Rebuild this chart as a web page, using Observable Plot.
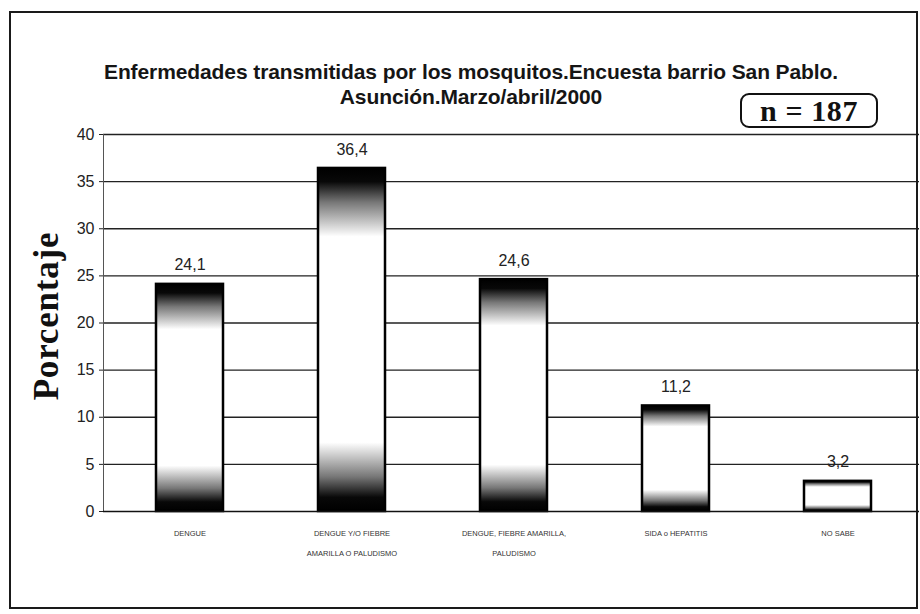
<!DOCTYPE html>
<html>
<head>
<meta charset="utf-8">
<script src="https://cdn.jsdelivr.net/npm/d3@7"></script>
<script src="https://cdn.jsdelivr.net/npm/@observablehq/plot@0.6"></script>
<style>
  html, body { margin: 0; padding: 0; background: #fff; }
  #wrap { position: relative; width: 920px; height: 614px; overflow: hidden; font-family: "Liberation Sans", Arial, sans-serif; }
  #frame { position: absolute; left: 9px; top: 11px; width: 909px; height: 598px; border: 2.5px solid #1a1a1a; box-sizing: border-box; }
  #chart { position: absolute; left: 0; top: 0; }
  .title { position: absolute; left: 0; width: 942px; text-align: center; font-weight: bold; font-size: 21px; line-height: 24px; color: #151515; letter-spacing: -0.1px; }
  #nbox { position: absolute; left: 740px; top: 93px; width: 138px; height: 35px; border: 2px solid #111; border-radius: 9px; box-sizing: border-box;
          font-family: "Liberation Serif", "Times New Roman", serif; font-weight: bold; font-size: 30px; line-height: 31px; text-align: center; color: #111;
          word-spacing: 0px; letter-spacing: 0.6px; }
  #ylab { position: absolute; left: 47px; top: 316px; transform: translate(-50%, -50%) rotate(-90deg); white-space: nowrap;
          font-family: "Liberation Serif", "Times New Roman", serif; font-weight: bold; font-size: 35px; letter-spacing: 0.8px; color: #111; }
</style>
</head>
<body>
<div id="wrap">
  <div id="chart"></div>
  <div id="frame"></div>
  <div class="title" style="top:60px;">Enfermedades transmitidas por los mosquitos.Encuesta barrio San Pablo.</div>
  <div class="title" style="top:85px;">Asunción.Marzo/abril/2000</div>
  <div id="nbox">n = 187</div>
  <div id="ylab">Porcentaje</div>
</div>
<script>
const categories = ["DENGUE", "DENGUE Y/O FIEBRE\nAMARILLA O PALUDISMO", "DENGUE, FIEBRE AMARILLA,\nPALUDISMO", "SIDA o HEPATITIS", "NO SABE"];
const values = [24.1, 36.4, 24.6, 11.2, 3.2];
const valueLabels = ["24,1", "36,4", "24,6", "11,2", "3,2"];
const yTicks = [0, 5, 10, 15, 20, 25, 30, 35, 40];

const data = categories.map((c, i) => ({cat: c, value: values[i], label: valueLabels[i]}));

const plot = Plot.plot({
  width: 920,
  height: 614,
  marginTop: 134,
  marginBottom: 103,
  marginLeft: 103,
  marginRight: 1,
  style: {fontFamily: "'Liberation Sans', Arial, sans-serif", color: "#222", background: "transparent"},
  x: {domain: categories, range: [108, 919], paddingInner: 0.588, paddingOuter: 0.29, label: null},
  y: {domain: [0, 40], label: null},
  marks: [
    Plot.ruleY(yTicks.filter(d => d > 0), {stroke: "#222", strokeWidth: 1.3}),
    Plot.frame({anchor: "left", stroke: "#555", strokeWidth: 1}),
    Plot.axisY({ticks: yTicks, tickSize: 4, tickPadding: 5, fontSize: 16, label: null}),
    Plot.barY(data, {x: "cat", y: "value", fill: "url(#barGrad)", stroke: "#000", strokeWidth: 2.5}),
    Plot.ruleY([0], {stroke: "#111", strokeWidth: 1.6}),
    Plot.text(data, {x: "cat", y: "value", text: "label", dy: -19, fontSize: 16, fill: "#222"}),
    Plot.axisX({tickSize: 0, tickPadding: 11, fontSize: 7.5, lineHeight: 2.6, fill: "#333", label: null})
  ]
});

const svg = d3.select(plot);
svg.insert("defs", ":first-child").html(`
  <linearGradient id="barGrad" x1="0" y1="0" x2="0" y2="1">
    <stop offset="0" stop-color="#000"/>
    <stop offset="0.04" stop-color="#080808"/>
    <stop offset="0.1" stop-color="#777"/>
    <stop offset="0.2" stop-color="#fff"/>
    <stop offset="0.8" stop-color="#fff"/>
    <stop offset="0.9" stop-color="#777"/>
    <stop offset="0.96" stop-color="#080808"/>
    <stop offset="1" stop-color="#000"/>
  </linearGradient>`);
document.getElementById("chart").appendChild(plot);
</script>
</body>
</html>
